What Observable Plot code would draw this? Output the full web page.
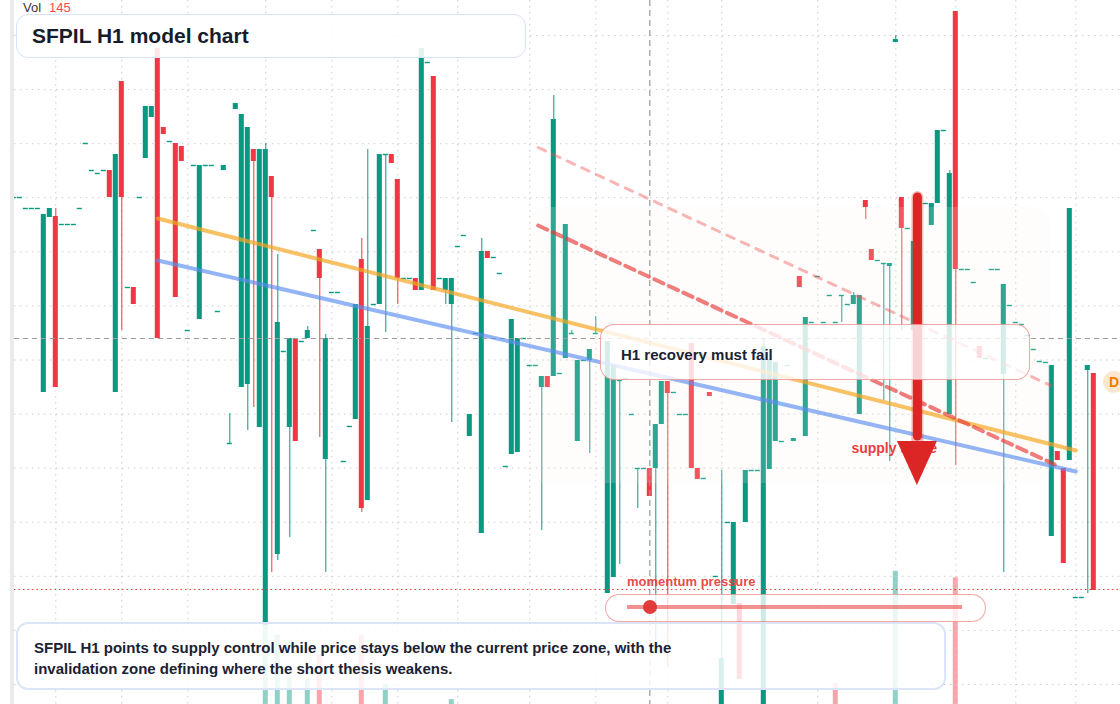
<!DOCTYPE html>
<html>
<head>
<meta charset="utf-8">
<script src="https://cdn.jsdelivr.net/npm/d3@7"></script>
<script src="https://cdn.jsdelivr.net/npm/@observablehq/plot@0.6"></script>
<style>
  html, body { margin: 0; padding: 0; background: #fff; overflow: hidden; }
  #wrap { position: relative; width: 1120px; height: 704px; overflow: hidden; font-family: "Liberation Sans", Arial, sans-serif; }
  #wrap > svg { position: absolute; left: 0; top: 0; }
  .ov { position: absolute; box-sizing: border-box; }
  #strip { left: 10px; top: 0; width: 4px; height: 704px; background: #ebebeb; }
  #vol { left: 23px; top: 0px; font-size: 13px; line-height: 15px; color: #3a3a3a; white-space: nowrap; }
  #vol span { color: #ef4b4b; margin-left: 8px; }
  #title { left: 16px; top: 14px; width: 510px; height: 44px; border: 1.5px solid #d5e3f8; border-radius: 12px;
           background: rgba(255,255,255,0.88); display: flex; align-items: center; padding-left: 15px;
           font-weight: bold; font-size: 21px; color: #151c2c; }
  #label { left: 600px; top: 324px; width: 430px; height: 56px; border: 1.5px solid rgba(229,57,53,0.45); border-radius: 14px;
           background: rgba(255,255,255,0.8); display: flex; align-items: center; padding-left: 20px; padding-top: 5px;
           font-weight: bold; font-size: 15px; color: #1a2233; }
  #caption { left: 16px; top: 622px; width: 930px; height: 68px; border: 2px solid #dae6f8; border-radius: 12px;
             background: rgba(255,255,255,0.85); padding: 13px 16px; font-weight: bold; font-size: 15px; line-height: 21px; color: #1a2233; }
  #mtext { left: 627px; top: 574px; font-weight: bold; font-size: 13px; line-height: 15px; color: rgba(229,57,53,0.92); white-space: nowrap; }
  #pill { left: 605px; top: 594px; width: 381px; height: 28px; border: 1.5px solid rgba(229,57,53,0.45); border-radius: 14px;
          background: rgba(255,255,255,0.8); }
  #track { left: 627px; top: 605px; width: 335px; height: 4px; background: rgba(229,57,53,0.55); }
  #knob { left: 643px; top: 600px; width: 14px; height: 14px; border-radius: 50%; background: rgba(224,52,52,0.95); }
  #badge { left: 1103px; top: 371px; width: 22px; height: 22px; border-radius: 50%; background: #fde7cf;
           color: #f57c00; font-weight: bold; font-size: 14px; line-height: 22px; text-align: center; }
</style>
</head>
<body>
<div id="wrap"></div>
<script>
// ---------- data ----------
const firstBar = 2; // index of first candle slot
const opens = [
  28.03, 28.03, 27.92, 27.92, 27.92, 26.08, 27.83, 27.84, 27.76, 27.76,
  27.76, 27.92, 28.57, 28.30, 28.27, 28.30, 28.30, 26.08, 29.19, 27.13,
  27.13, 28.03, 28.42, 28.83, 29.52, 28.73, 28.59, 28.57, 28.54, 26.70,
  28.35, 26.81, 28.35, 28.35, 26.89, 28.30, 25.57, 28.91, 26.13, 26.16,
  28.51, 25.73, 23.75, 28.24, 24.46, 26.49, 25.73, 26.62, 26.59, 26.62,
  27.70, 27.51, 25.41, 27.08, 27.08, 25.39, 25.74, 25.81, 27.41, 25.00,
  26.96, 26.96, 28.46, 28.46, 28.21, 27.22, 27.22, 27.22, 27.10, 29.38,
  29.24, 27.22, 27.10, 26.96, 27.54, 27.65, 25.64, 26.67, 24.67, 27.49,
  27.43, 27.27, 25.34, 25.46, 25.48, 26.62, 26.35, 26.35, 26.13, 26.24,
  26.24, 26.27, 26.42, 26.67, 25.59, 26.40, 26.40, 26.67, null, 24.07,
  24.23, 26.20, 26.22, 25.86, 25.32, 25.32, 25.32, 25.32, 25.76, 26.19,
  26.08, 25.86, 25.86, 26.57, 25.32, 25.22, 26.08, 24.24, 22.96, 24.78,
  23.96, 23.97, 24.78, 25.30, 25.30, 22.96, 25.31, 25.59, 25.59, 26.35,
  25.59, 27.24, 25.64, 26.78, 27.24, 26.78, 27.05, 26.78, 27.05, 26.96,
  26.96, 25.86, 28.00, 27.51, 27.40, 27.37, 27.34, 29.58, 28.03, 27.72,
  26.70, null, 27.97, 27.75, 27.97, 28.70, 25.86, 29.89, 27.31, 27.31,
  27.18, 26.54, 26.42, 27.31, 27.31, 26.26, 26.95, 26.78, 26.76, 26.65,
  26.51, 26.39, 26.38, 24.64, 25.49, 25.32, 25.40, 24.03, 24.03, 26.30,
  26.27
];
const highs = [
  28.03, 28.03, 27.92, 27.92, 27.92, 27.86, 27.92, 27.92, 27.76, 27.76,
  27.76, 27.92, 28.57, 28.30, 28.27, 28.30, 28.30, 28.46, 29.19, 27.13,
  27.13, 28.03, 28.94, 28.94, 29.52, 28.73, 28.59, 28.57, 28.54, 26.70,
  28.35, 28.35, 28.35, 28.35, 26.89, 28.35, 25.87, 28.97, 28.86, 28.73,
  28.51, 28.51, 28.57, 28.24, 27.46, 26.49, 26.62, 26.62, 26.59, 26.74,
  27.70, 27.51, 26.66, 27.08, 27.08, 25.39, 25.74, 26.96, 27.62, 28.51,
  26.96, 28.46, 28.46, 28.46, 28.21, 27.22, 27.22, 27.22, 29.52, 29.38,
  29.24, 27.22, 27.22, 27.22, 27.54, 27.65, 25.86, 26.67, 27.62, 27.49,
  27.43, 27.27, 25.34, 26.81, 26.62, 26.62, 26.35, 26.35, 26.24, 26.24,
  29.05, 26.27, 27.76, 26.70, 26.40, 26.40, 26.51, 26.84, null, 26.59,
  26.35, 26.20, 26.22, 25.86, 25.32, 25.32, 25.32, 25.76, 26.19, 26.19,
  26.08, 25.86, 25.86, 26.57, 25.32, 25.22, 26.08, 24.24, 25.30, 24.78,
  24.78, 23.97, 25.30, 25.30, 25.30, 26.62, 26.41, 26.38, 25.59, 26.35,
  25.62, 27.24, 26.83, 26.78, 27.24, 26.78, 27.05, 26.78, 27.05, 26.96,
  27.08, 27.05, 28.00, 27.51, 27.40, 27.37, 27.37, 29.65, 28.03, 27.72,
  27.59, null, 27.97, 27.97, 28.70, 28.70, 28.30, 29.89, 27.31, 27.31,
  27.18, 26.54, 26.42, 27.31, 27.31, 27.16, 26.95, 26.78, 26.76, 26.65,
  26.51, 26.39, 26.38, 26.35, 25.49, 25.32, 27.92, 24.03, 24.03, 26.35,
  26.27
];
const lows = [
  28.03, 28.03, 27.92, 27.92, 27.92, 26.08, 27.83, 26.13, 27.76, 27.76,
  27.76, 27.92, 28.57, 28.30, 28.27, 28.30, 28.03, 26.08, 26.70, 27.13,
  26.96, 28.03, 28.42, 28.83, 26.62, 28.66, 28.59, 27.03, 28.39, 26.70,
  28.35, 26.81, 28.35, 28.35, 26.89, 28.30, 25.57, 28.91, 26.13, 25.70,
  25.93, 25.73, 23.75, 24.28, 24.40, 26.49, 24.63, 25.59, 26.59, 26.62,
  27.70, 25.63, 24.28, 27.08, 27.08, 25.39, 25.74, 25.81, 24.88, 25.00,
  26.96, 26.96, 26.68, 28.37, 26.96, 27.22, 27.22, 27.10, 27.10, 29.38,
  27.10, 27.22, 26.96, 25.78, 27.54, 27.65, 25.64, 26.67, 24.67, 27.42,
  27.43, 27.27, 25.34, 25.46, 25.48, 26.62, 26.35, 26.35, 24.70, 26.13,
  26.24, 26.27, 26.42, 26.67, 25.59, 26.40, 25.47, 26.67, null, 24.07,
  24.23, 24.36, 26.22, 25.86, 24.92, 25.32, 25.04, 23.60, 25.76, 23.33,
  26.08, 25.86, 25.86, 25.32, 25.21, 25.22, 26.04, 24.24, 22.96, 24.78,
  23.96, 23.21, 24.78, 25.30, 25.30, 22.96, 25.31, 25.59, 25.59, 26.35,
  25.59, 27.13, 25.64, 26.78, 27.24, 26.78, 27.05, 26.78, 26.78, 26.96,
  26.96, 25.86, 27.81, 27.40, 27.40, 26.00, 25.39, 29.58, 26.70, 27.72,
  26.70, null, 27.97, 27.75, 27.97, 28.70, 25.86, 25.35, 27.31, 27.31,
  27.18, 26.42, 26.42, 27.31, 27.31, 24.28, 26.95, 26.78, 26.76, 26.65,
  26.51, 26.39, 26.38, 24.64, 25.40, 24.37, 25.40, 24.03, 24.03, 24.07,
  24.10
];
const closes = [
  28.03, 28.03, 27.92, 27.92, 27.92, 27.86, 27.92, 26.13, 27.76, 27.76,
  27.76, 27.92, 28.57, 28.30, 28.27, 28.30, 28.03, 28.46, 28.03, 27.13,
  26.96, 28.03, 28.94, 28.94, 26.62, 28.66, 28.59, 27.03, 28.39, 26.70,
  28.35, 28.35, 28.35, 28.35, 26.89, 28.35, 25.57, 28.97, 28.86, 28.73,
  28.39, 28.51, 28.51, 28.03, 26.78, 26.49, 26.62, 25.59, 26.59, 26.70,
  27.70, 27.22, 26.62, 27.08, 27.08, 25.39, 25.74, 26.96, 24.92, 26.74,
  26.96, 28.46, 28.46, 28.37, 27.22, 27.22, 27.22, 27.10, 29.52, 29.38,
  27.10, 27.22, 27.22, 27.22, 27.54, 27.65, 25.86, 26.67, 27.49, 27.42,
  27.43, 27.27, 25.34, 26.81, 26.62, 26.62, 26.35, 26.35, 26.24, 26.13,
  28.81, 26.27, 27.76, 26.67, 26.40, 26.40, 26.51, 26.67, null, 26.59,
  26.35, 26.20, 26.22, 25.86, 25.32, 25.32, 25.04, 25.76, 26.19, 26.07,
  26.08, 25.86, 25.86, 25.32, 25.21, 25.22, 26.04, 24.24, 23.42, 24.78,
  24.78, 23.21, 25.30, 25.30, 25.30, 26.54, 26.41, 26.38, 25.59, 26.35,
  25.62, 27.13, 26.83, 26.78, 27.24, 26.78, 27.05, 26.78, 27.05, 26.96,
  27.05, 27.05, 27.93, 27.40, 27.40, 27.37, 27.37, 29.61, 27.72, 27.72,
  27.59, null, 27.97, 27.97, 28.70, 28.70, 28.27, 27.31, 27.31, 27.31,
  27.18, 26.42, 26.42, 27.31, 27.31, 27.16, 26.95, 26.78, 26.76, 26.65,
  26.51, 26.39, 26.38, 26.35, 25.40, 24.37, 27.92, 24.03, 24.03, 26.35,
  24.10
];

// volume
const volBars   = [44, 46, 48, 51, 53, 60, 64, 75, 139, 149, 159];
const volValues = [120, 99, 39, 36, 71, 99, 29, 7, 30, 190, 181];
const volSide   = ["up", "up", "up", "up", "down", "down", "up", "up", "down", "up", "down"];

// grid / reference levels
const gridBars   = [9, 20, 31, 44, 55, 66, 76, 88, 99, 111, 120, 136, 149, 159, 169, 179];
const gridPrices = [29.65, 29.109, 28.568, 28.028, 27.487, 26.946, 26.405, 25.864, 25.324, 24.783, 24.242, 23.701, 23.16];
const currentPrice = 26.62;
const crosshairBar = 108;
const invalidationPrice = 24.11;

// overlays
const trendBars      = [26, 179];
const resistanceLine = [27.82, 25.50];
const supportLine    = [27.40, 25.29];
const channelBars    = [89.4, 174.8];
const channelUpper   = [28.53, 26.15];
const channelLowerBars = [89.4, 175.5];
const channelLower   = [27.75, 25.36];
const zoneBars   = [88.1, 174.8];
const zonePrices = [27.93, 25.17];
const arrowBar = 152.6, arrowFrom = 28.03, arrowHeadBase = 25.59, arrowTo = 25.15, arrowHalf = 3.33;
const supplyLabel = { bar: 141.6, price: 25.52, text: "supply stage" };

// ---------- build ----------
const UP = "#089981", DOWN = "#f23645";
const candles = opens.map((o, i) => o == null ? null : ({ i: firstBar + i, o, h: highs[i], l: lows[i], c: closes[i] })).filter(d => d);
const col = d => d.c >= d.o ? UP : DOWN;
const bodies = candles.filter(d => d.o !== d.c);
const dojis = candles.filter(d => d.o === d.c);
const HW = 0.42;

const xOpt = { type: "linear", domain: [0, 186], range: [1.3, 1117.3], axis: null };
const yOpt = { type: "linear", domain: [30, 22.96], range: [0, 704], axis: null };

const volData = volBars.map((b, i) => ({ i: b, v: volValues[i], side: volSide[i] }));
const volPlot = Plot.plot({
  width: 1120, height: 704, margin: 0,
  style: { background: "transparent" },
  x: xOpt,
  y: { type: "linear", domain: [0, 200], range: [704, 564], axis: null },
  color: { type: "identity" },
  marks: [
    Plot.rect(volData, { x1: d => d.i - HW, x2: d => d.i + HW, y1: 0, y2: "v",
      fill: d => d.side === "up" ? UP : DOWN, fillOpacity: 0.45 })
  ]
});

const line2 = (bars, vals) => bars.map((b, i) => ({ x: b, y: vals[i] }));
const headPts = [
  { p: arrowHeadBase, a: arrowBar - arrowHalf, b: arrowBar + arrowHalf },
  { p: arrowTo, a: arrowBar, b: arrowBar }
];

const main = Plot.plot({
  width: 1120, height: 704, margin: 0,
  style: { background: "transparent", fontFamily: "Liberation Sans, Arial, sans-serif" },
  x: xOpt, y: yOpt,
  color: { type: "identity" },
  marks: [
    Plot.ruleY(gridPrices, { y: d => d, x1: 2.1, x2: 186.5, stroke: "#cccccc", strokeDasharray: "1.5,4.5", strokeWidth: 1 }),
    Plot.ruleX(gridBars, { x: d => d, stroke: "#cccccc", strokeDasharray: "1.5,4.5", strokeWidth: 1 }),
    // candles
    Plot.ruleX(candles, { x: "i", y1: "l", y2: "h", stroke: col, strokeWidth: 1 }),
    Plot.rect(bodies, { x1: d => d.i - HW, x2: d => d.i + HW, y1: "o", y2: "c", fill: col }),
    Plot.ruleY(dojis, { y: "o", x1: d => d.i - HW, x2: d => d.i + HW, stroke: col, strokeWidth: 1.4 }),
    // zone
    Plot.rect([0], { x1: zoneBars[0], x2: zoneBars[1], y1: zonePrices[0], y2: zonePrices[1],
      fill: "#faf3ec", fillOpacity: 0.16, rx: 16 }),
    // reference lines
    Plot.ruleY([currentPrice], { y: d => d, x1: 2.1, x2: 186.5, stroke: "#9a9a9a", strokeDasharray: "5,4", strokeWidth: 1.2 }),
    Plot.ruleX([crosshairBar], { x: d => d, stroke: "#9a9a9a", strokeDasharray: "6,4", strokeWidth: 1.2 }),
    Plot.ruleY([invalidationPrice], { y: d => d, x1: 2.1, x2: 186.5, stroke: "#e53935", strokeDasharray: "1.5,3", strokeWidth: 1.2 }),
    // trend lines
    Plot.line(line2(trendBars, resistanceLine), { x: "x", y: "y", stroke: "#f5a623", strokeOpacity: 0.7, strokeWidth: 4 }),
    Plot.line(line2(trendBars, supportLine), { x: "x", y: "y", stroke: "#5b8def", strokeOpacity: 0.65, strokeWidth: 4 }),
    Plot.line(line2(channelBars, channelUpper), { x: "x", y: "y", stroke: "#ef5350", strokeOpacity: 0.42, strokeWidth: 3, strokeDasharray: "8,8" }),
    Plot.line(line2(channelLowerBars, channelLower), { x: "x", y: "y", stroke: "#e53935", strokeOpacity: 0.65, strokeWidth: 4, strokeDasharray: "10,6" }),
    // supply label + arrow
    Plot.text([supplyLabel], { x: "bar", y: "price", text: "text", textAnchor: "start", fill: "#e53e3e",
      fontWeight: "bold", fontSize: 14 }),
    Plot.ruleX([arrowBar], { x: d => d, y1: arrowHeadBase, y2: arrowFrom, stroke: "#dc2626", strokeOpacity: 0.3, strokeWidth: 12, strokeLinecap: "round" }),
    Plot.ruleX([arrowBar], { x: d => d, y1: arrowHeadBase + 0.05, y2: arrowFrom, stroke: "#dc2626", strokeWidth: 9, strokeLinecap: "round" }),
    Plot.areaX(headPts, { y: "p", x1: "a", x2: "b", fill: "#dc2626" })
  ]
});

const wrap = document.getElementById("wrap");
wrap.appendChild(volPlot);
wrap.appendChild(main);

const html = `
  <div class="ov" id="strip"></div>
  <div class="ov" id="vol">Vol<span>145</span></div>
  <div class="ov" id="title">SFPIL H1 model chart</div>
  <div class="ov" id="label">H1 recovery must fail</div>
  <div class="ov" id="caption">SFPIL H1 points to supply control while price stays below the current price zone, with the<br>invalidation zone defining where the short thesis weakens.</div>
  <div class="ov" id="mtext">momentum pressure</div>
  <div class="ov" id="pill"></div>
  <div class="ov" id="track"></div>
  <div class="ov" id="knob"></div>
  <div class="ov" id="badge">D</div>`;
wrap.insertAdjacentHTML("beforeend", html);
</script>
</body>
</html>
